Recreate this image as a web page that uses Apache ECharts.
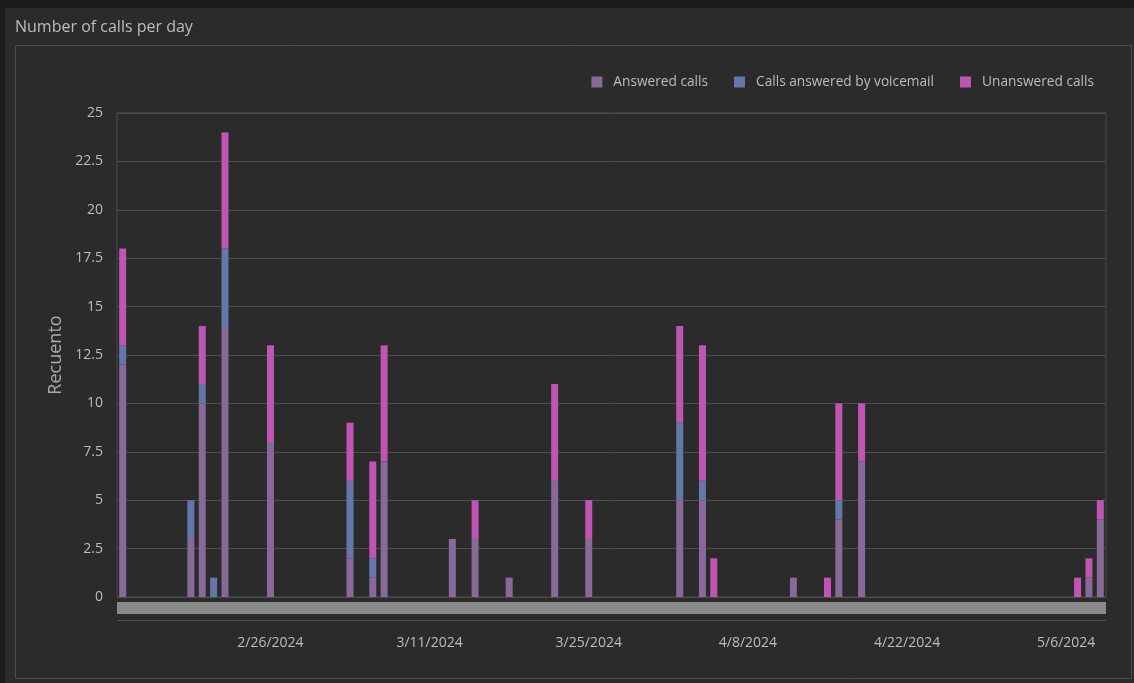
<!DOCTYPE html>
<html>
<head>
<meta charset="utf-8">
<script src="https://cdn.jsdelivr.net/npm/echarts@6/dist/echarts.min.js"></script>
<style>
html,body{margin:0;padding:0;background:#1c1c1c;}
#chart{width:1134px;height:683px;}
</style>
</head>
<body>
<div id="chart"></div>
<script>
// ---- data ----
const firstDay = '2024-02-13';
const lastDay = '2024-05-09';
const callDates = ['2024-02-13','2024-02-19','2024-02-20','2024-02-21','2024-02-22','2024-02-26',
  '2024-03-04','2024-03-06','2024-03-07','2024-03-13','2024-03-15','2024-03-18','2024-03-22','2024-03-25',
  '2024-04-02','2024-04-04','2024-04-05','2024-04-12','2024-04-15','2024-04-16','2024-04-18',
  '2024-05-07','2024-05-08','2024-05-09'];
const answered   = [12, 3, 10, 0, 14, 8, 2, 1, 7, 3, 3, 1, 6, 3, 5, 5, 0, 1, 0, 4, 7, 0, 1, 4];
const voicemail  = [ 1, 2,  1, 1,  4, 0, 4, 1, 0, 0, 0, 0, 0, 0, 4, 1, 0, 0, 0, 1, 0, 0, 0, 0];
const unanswered = [ 5, 0,  3, 0,  6, 5, 3, 5, 6, 0, 2, 0, 5, 2, 5, 7, 2, 0, 1, 5, 3, 1, 1, 1];
const tickLabels = ['2/26/2024','3/11/2024','3/25/2024','4/8/2024','4/22/2024','5/6/2024'];
const seriesNames = ['Answered calls','Calls answered by voicemail','Unanswered calls'];

// ---- build category axis (one category per day) ----
function fmt(d){ return (d.getUTCMonth()+1)+'/'+d.getUTCDate()+'/'+d.getUTCFullYear(); }
const days = [];
for (let t = Date.parse(firstDay+'T00:00:00Z'); t <= Date.parse(lastDay+'T00:00:00Z'); t += 86400000) {
  days.push(fmt(new Date(t)));
}
function toSeries(vals){
  const m = {};
  callDates.forEach((d,i)=>{ m[fmt(new Date(d+'T00:00:00Z'))] = vals[i] || null; });
  return days.map(d => (d in m) ? m[d] : null);
}

const colors = ['#876a97','#6577a9','#c056b4'];
const txt = '#bdbdbd';
const font = '"Open Sans", "Noto Sans", sans-serif';

const chart = echarts.init(document.getElementById('chart'));
chart.setOption({
  backgroundColor: '#1c1c1c',
  animation: false,
  color: colors,
  textStyle: { fontFamily: font },
  graphic: [
    { type:'rect', z:-10, shape:{x:5,y:8,width:1129,height:675}, style:{fill:'#2b2b2b'} },
    { type:'rect', z:-9, shape:{x:15.5,y:45.5,width:1116,height:633}, style:{fill:'none',stroke:'#4d4d4d',lineWidth:1} },
    { type:'text', left:15, top:19, style:{text:'Number of calls per day', fill:txt, font:'16px '+font} },
    { type:'rect', shape:{x:117,y:602,width:989,height:12}, style:{fill:'#8a8a8a'} },
    { type:'line', shape:{x1:117,y1:620.5,x2:1106,y2:620.5}, style:{stroke:'#505050',lineWidth:1} }
  ],
  legend: {
    right: 35, top: 70,
    itemWidth: 11, itemHeight: 11, itemGap: 26,
    icon: 'rect',
    textStyle: { color: txt, fontSize: 13.7, fontFamily: font, padding: [0, 0, 0, 6] },
    data: seriesNames
  },
  grid: { left: 117, right: 28, top: 113, bottom: 86, show: true, borderColor: '#4d4d4d', borderWidth: 1 },
  xAxis: {
    type: 'category',
    data: days,
    axisLine: { show: false },
    axisTick: { show: false },
    axisLabel: {
      color: txt, fontSize: 14, fontFamily: font, margin: 39,
      interval: (i, v) => tickLabels.includes(v)
    }
  },
  yAxis: {
    type: 'value', min: 0, max: 25, interval: 2.5,
    name: 'Recuento', nameLocation: 'middle', nameGap: 50,
    nameTextStyle: { color: '#aaaaaa', fontSize: 18, fontFamily: font },
    axisLine: { show: false }, axisTick: { show: false },
    axisLabel: { color: txt, fontSize: 14, fontFamily: font, margin: 14 },
    splitLine: { lineStyle: { color: '#4d4d4d' } }
  },
  series: [
    { name: seriesNames[0], type: 'bar', stack: 'c', barWidth: 7, data: toSeries(answered) },
    { name: seriesNames[1], type: 'bar', stack: 'c', barWidth: 7, data: toSeries(voicemail) },
    { name: seriesNames[2], type: 'bar', stack: 'c', barWidth: 7, data: toSeries(unanswered) }
  ]
});
</script>
</body>
</html>
